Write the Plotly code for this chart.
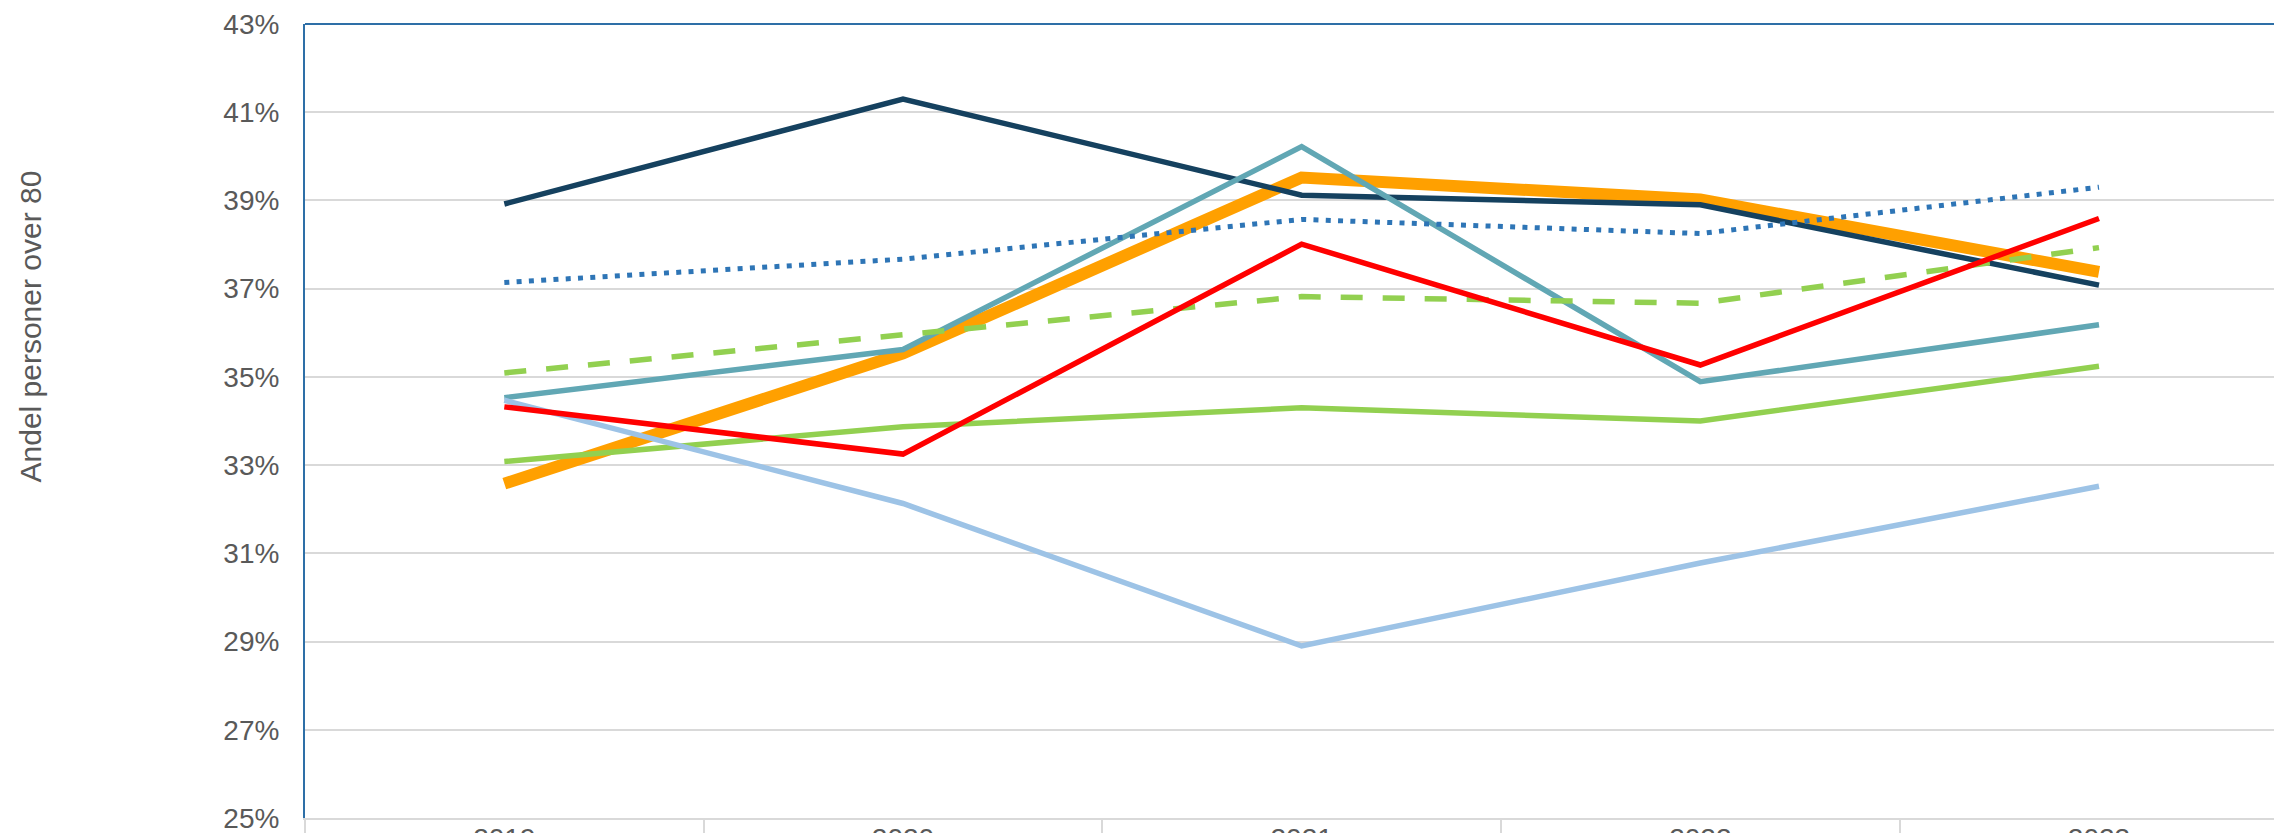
import plotly.graph_objects as go

years = ["2019", "2020", "2021", "2022", "2023"]

navy = [38.92, 41.30, 39.12, 38.90, 37.08]
blue_dotted = [37.14, 37.67, 38.57, 38.25, 39.30]
orange = [32.58, 35.53, 39.52, 39.02, 37.38]
teal = [34.53, 35.62, 40.22, 34.89, 36.18]
green_dashed = [35.09, 35.96, 36.82, 36.67, 37.93]
green = [33.08, 33.87, 34.30, 34.00, 35.24]
red = [34.32, 33.25, 38.01, 35.27, 38.59]
light_blue = [34.47, 32.13, 28.90, 30.78, 32.52]

y_ticks = [25, 27, 29, 31, 33, 35, 37, 39, 41, 43]
y_ticktext = [f"{v}%" for v in y_ticks]

FONT = "Liberation Sans, Arial, sans-serif"
GRAY_TXT = "#595959"
GRID = "#d9d9d9"
AXBLUE = "#2e6fa7"

series = [
    ("Serie A", orange, "#ffa000", 12, "solid"),
    ("Serie B", navy, "#15415f", 5.5, "solid"),
    ("Serie C", teal, "#61a7b4", 5.5, "solid"),
    ("Serie D", blue_dotted, "#2e75b6", 5, "5px,7.3px"),
    ("Serie E", green_dashed, "#92d050", 5.5, "22px,20px"),
    ("Serie F", green, "#92d050", 5.5, "solid"),
    ("Serie G", light_blue, "#9dc3e6", 5.5, "solid"),
    ("Serie H", red, "#ff0000", 5.5, "solid"),
]

fig = go.Figure()
for name, vals, color, w, dash in series:
    fig.add_trace(go.Scatter(
        x=years, y=vals, name=name, mode="lines",
        line=dict(color=color, width=w, dash=dash),
        showlegend=False,
    ))

# invisible trace to give the boundary-tick axis its categories
fig.add_trace(go.Scatter(
    x=years, y=navy, xaxis="x2", mode="lines",
    line=dict(width=0), opacity=0, hoverinfo="skip", showlegend=False,
))

xr = [-0.5, 4.439]

fig.update_layout(
    width=2274, height=833,
    margin=dict(l=305, r=0, t=24, b=15, autoexpand=False),
    paper_bgcolor="white", plot_bgcolor="white",
    font=dict(family=FONT, color=GRAY_TXT, size=28),
    xaxis=dict(
        type="category", categoryarray=years, range=xr, automargin=False,
        showgrid=False, zeroline=False,
        showline=True, linecolor=GRID, linewidth=2,
        ticks="", tickfont=dict(size=28, color=GRAY_TXT, family=FONT),
        ticklabelstandoff=-6, ticklabeloverflow="allow",
    ),
    xaxis2=dict(
        type="category", categoryarray=years, range=xr, automargin=False,
        overlaying="x", anchor="y", side="bottom",
        showgrid=False, zeroline=False, showline=False,
        ticks="outside", tickson="boundaries", ticklen=22, tickwidth=2,
        tickcolor=GRID, showticklabels=False,
    ),
    yaxis=dict(
        range=[25, 43], tickvals=y_ticks, ticktext=y_ticktext, automargin=False,
        showgrid=True, gridcolor=GRID, gridwidth=2, zeroline=False,
        showline=True, linecolor=AXBLUE, linewidth=2,
        ticks="", tickfont=dict(size=28, color=GRAY_TXT, family=FONT),
        ticklabelstandoff=18, ticklabeloverflow="allow",
    ),
    shapes=[dict(type="line", xref="paper", yref="paper", x0=0, x1=1, y0=1, y1=1,
                 line=dict(color=AXBLUE, width=2))],
    annotations=[dict(
        text="Andel personer over 80", textangle=-90,
        xref="paper", yref="paper",
        x=(30 - 305) / 1969, y=(818 - 326.5) / 794,
        xanchor="center", yanchor="middle", showarrow=False,
        font=dict(size=30, color=GRAY_TXT, family=FONT),
    )],
)

fig.write_html(
    "out.html",
    config={"displayModeBar": False},
    post_script="document.body.style.margin='0';document.body.style.overflow='hidden';",
)
